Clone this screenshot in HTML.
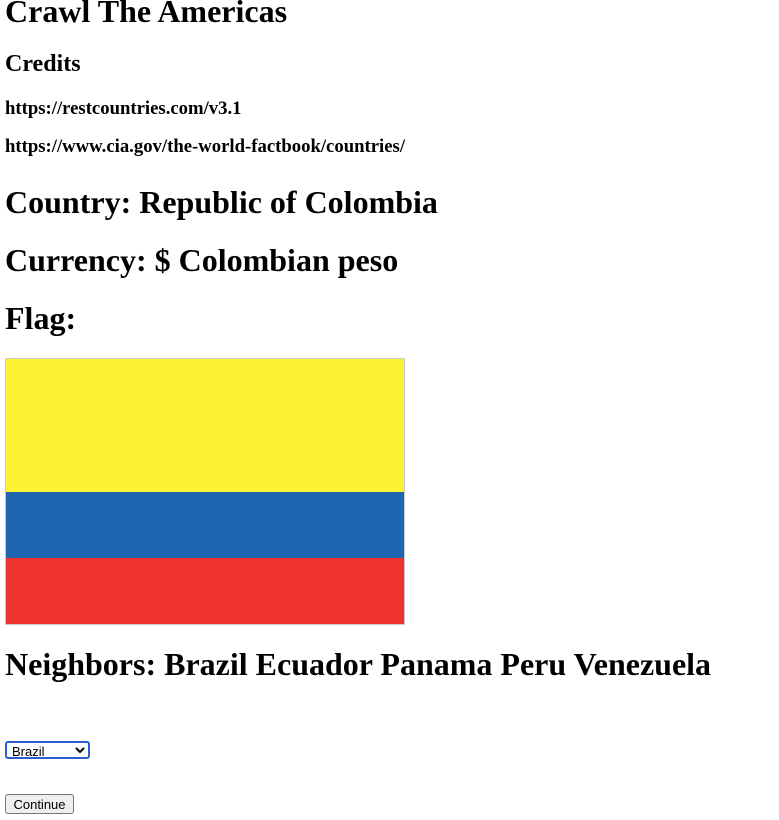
<!DOCTYPE html>
<html><head><meta charset="utf-8"><style>
html,body{margin:0;padding:0;width:779px;height:820px;overflow:hidden;background:#fff;}
body{font-family:"Liberation Serif",serif;color:#000;position:relative;}
.t{position:absolute;left:5px;margin:0;font-weight:bold;line-height:1em;white-space:nowrap;}
.h1{font-size:32px}.h2{font-size:24px}.h3{font-size:18.72px}
#flag{position:absolute;left:5px;top:358px;width:398px;height:265px;border:1px solid #ccc;}
#flag div{width:100%}
select{position:absolute;left:5px;top:741px;width:85px;height:18px;font:13px "Liberation Sans",sans-serif;border:2px solid #2a5fd0;border-radius:3px;padding:0 1px;background:#fff;box-sizing:border-box;line-height:14px;}
button{position:absolute;left:5px;top:794px;width:69px;height:20px;font:13px "Liberation Sans",sans-serif;border:1px solid #767676;border-radius:3px;background:#efefef;padding:0;box-sizing:border-box;}
</style></head><body>
<h1 class="t h1" style="top:-5px">Crawl The Americas</h1>
<h2 class="t h2" style="top:52px">Credits</h2>
<h3 class="t h3" style="top:100px">https://restcountries.com/v3.1</h3>
<h3 class="t h3" style="top:138px">https://www.cia.gov/the-world-factbook/countries/</h3>
<h1 class="t h1" style="top:186px">Country: Republic of Colombia</h1>
<h1 class="t h1" style="top:244px">Currency: $ Colombian peso</h1>
<h1 class="t h1" style="top:302px">Flag:</h1>
<div id="flag">
<div style="height:133px;background:#fcf133"></div>
<div style="height:66px;background:#1f64ae"></div>
<div style="height:66px;background:#ed322f"></div>
</div>
<h1 class="t h1" style="top:648px">Neighbors: Brazil Ecuador Panama Peru Venezuela</h1>
<select><option>Brazil</option><option>Ecuador</option><option>Panama</option><option>Peru</option><option>Venezuela</option></select>
<button>Continue</button>
</body></html>
